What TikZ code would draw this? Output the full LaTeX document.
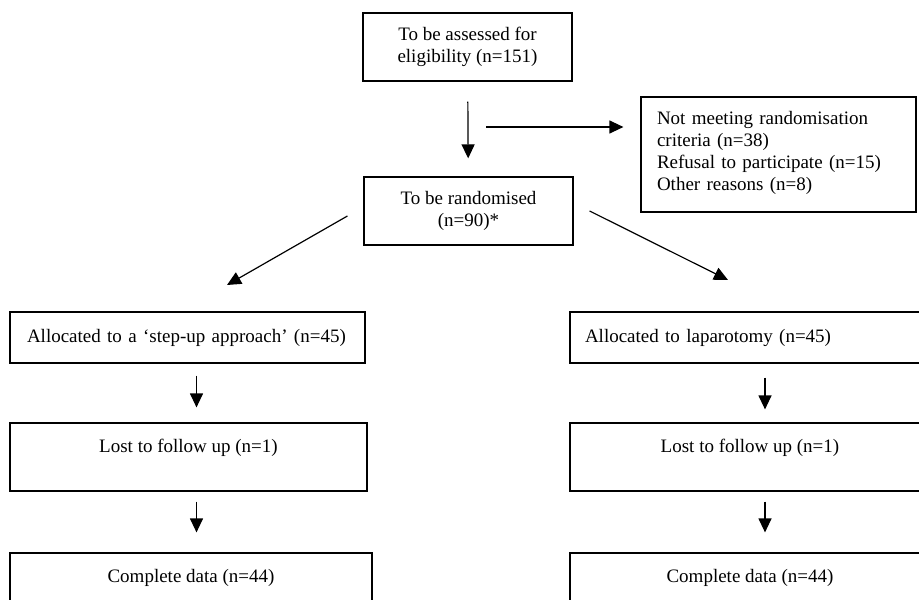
\documentclass[tikz,border=0pt]{standalone}
\usepackage{fontspec}
\setmainfont{Liberation Serif}
\usetikzlibrary{arrows.meta}

\tikzset{
  flowbox/.style={draw, thick, line width=0.6pt, inner sep=0pt, align=center},
  arr/.style={line width=0.6pt, -{Triangle[length=7pt, width=6.5pt]}}
}

\begin{document}
\begin{tikzpicture}[x=0.5pt, y=-0.5pt, font=\fontsize{9.5}{11}\selectfont]

\useasboundingbox (0,0) rectangle (919,599);
\clip (0,0) rectangle (919,599);

% screening
\node (assess) at (467.5, 47) [flowbox, minimum width=104.5pt, minimum height=34pt] {To be assessed for\\eligibility (n=151)};

\node (reasons) at (778.5, 154.5) [flowbox, minimum width=137.5pt, minimum height=57.5pt, text width=121.5pt, align=left, inner xsep=8pt] {Not meeting randomisation\\criteria (n=38)\\Refusal to participate (n=15)\\Other reasons (n=8)\\[-7pt]\mbox{}};

\node (random) at (468.5, 211) [flowbox, minimum width=104.5pt, minimum height=34pt] {To be randomised\\(n=90)*};

\draw[arr, shorten <=10pt, shorten >=9pt] (assess) -- (random);

\coordinate (split) at (486, 127);
\draw[arr, shorten >=8.5pt] (split) -- (split -| reasons.west);

% arms
\node (allocstep) at (187.5, 337.5) [flowbox, minimum width=177.5pt, minimum height=25.5pt, text width=160.5pt, align=left, inner xsep=8.5pt] {Allocated to a `step-up approach' (n=45)};
\node (alloclap) at (750, 337.5) [flowbox, minimum width=180pt, minimum height=25.5pt, text width=165pt, align=left, inner xsep=7.5pt] {Allocated to laparotomy (n=45)};

\coordinate (stepin) at (227, 285);
\coordinate (lapin) at (728, 280);
\draw[arr] ([xshift=-8pt, yshift=-2.5pt]random.west) -- (stepin);
\draw[arr] ([xshift=8pt]random.east) -- (lapin);

\node (lost1) at (188.5, 457) [flowbox, minimum width=178.5pt, minimum height=34pt] {Lost to follow up (n=1)\\ \mbox{}};
\node (lost2) at (750, 457) [flowbox, minimum width=180pt, minimum height=34pt] {Lost to follow up (n=1)\\ \mbox{}};

\node (compl1) at (191, 587) [flowbox, minimum width=181pt, minimum height=34pt] {Complete data (n=44)\\ \mbox{}};
\node (compl2) at (750, 587) [flowbox, minimum width=180pt, minimum height=34pt] {Complete data (n=44)\\ \mbox{}};

\draw[arr, shorten <=6pt, shorten >=7.5pt] ([xshift=4.5pt]allocstep.south) -- ([xshift=4.5pt]allocstep.south |- lost1.north);
\draw[arr, shorten <=5pt, shorten >=10pt] ([xshift=4.5pt]allocstep.south |- lost1.south) -- ([xshift=4.5pt]allocstep.south |- compl1.north);

\draw[arr, shorten <=7pt, shorten >=6.5pt] ([xshift=7.5pt]alloclap.south) -- ([xshift=7.5pt]alloclap.south |- lost2.north);
\draw[arr, shorten <=5pt, shorten >=10pt] ([xshift=7.5pt]alloclap.south |- lost2.south) -- ([xshift=7.5pt]alloclap.south |- compl2.north);

\end{tikzpicture}
\end{document}
